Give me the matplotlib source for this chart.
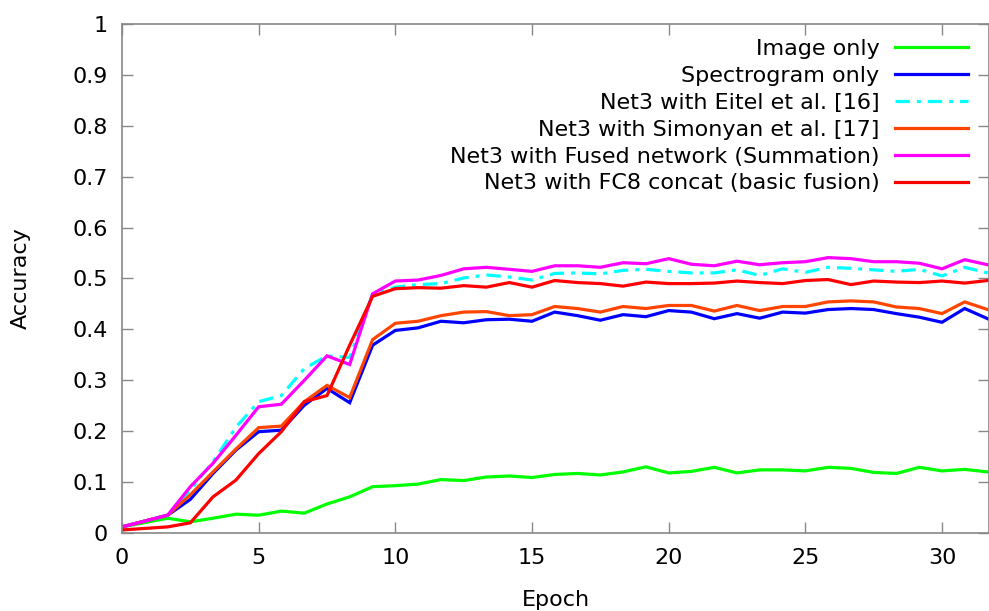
import matplotlib
matplotlib.use("Agg")
import matplotlib.pyplot as plt
from matplotlib.ticker import FormatStrFormatter, MultipleLocator

# --- data ---
epoch = [0, 1.67, 2.5, 3.33, 4.17, 5, 5.83, 6.67, 7.5, 8.33, 9.17, 10,
         10.83, 11.67, 12.5, 13.33, 14.17, 15, 15.83, 16.67, 17.5, 18.33,
         19.17, 20, 20.83, 21.67, 22.5, 23.33, 24.17, 25, 25.83, 26.67,
         27.5, 28.33, 29.17, 30, 30.83, 31.67]

image_only = [0.012, 0.029, 0.022, 0.029, 0.037, 0.035, 0.043, 0.039, 0.057, 0.071,
              0.091, 0.093, 0.096, 0.105, 0.103, 0.110, 0.112, 0.109, 0.115, 0.117,
              0.114, 0.120, 0.130, 0.118, 0.121, 0.129, 0.118, 0.124, 0.124, 0.122,
              0.129, 0.127, 0.119, 0.117, 0.129, 0.122, 0.125, 0.120]
spectrogram = [0.012, 0.035, 0.066, 0.117, 0.163, 0.199, 0.202, 0.251, 0.284, 0.256,
               0.369, 0.398, 0.403, 0.416, 0.413, 0.419, 0.420, 0.416, 0.434, 0.427,
               0.418, 0.429, 0.425, 0.437, 0.434, 0.421, 0.431, 0.422, 0.434, 0.432,
               0.439, 0.441, 0.439, 0.431, 0.424, 0.414, 0.441, 0.421]
eitel = [0.012, 0.035, 0.085, 0.140, 0.208, 0.258, 0.270, 0.323, 0.348, 0.345,
         0.470, 0.483, 0.488, 0.490, 0.501, 0.507, 0.503, 0.497, 0.510, 0.511,
         0.509, 0.516, 0.518, 0.514, 0.511, 0.511, 0.517, 0.506, 0.519, 0.512,
         0.522, 0.520, 0.517, 0.514, 0.518, 0.505, 0.522, 0.511]
simonyan = [0.012, 0.035, 0.075, 0.120, 0.165, 0.207, 0.210, 0.258, 0.290, 0.266,
            0.380, 0.412, 0.416, 0.427, 0.434, 0.435, 0.427, 0.429, 0.445, 0.441,
            0.434, 0.445, 0.441, 0.447, 0.447, 0.436, 0.447, 0.437, 0.445, 0.445,
            0.454, 0.456, 0.454, 0.444, 0.441, 0.431, 0.454, 0.439]
fused = [0.012, 0.035, 0.091, 0.137, 0.192, 0.248, 0.253, 0.300, 0.348, 0.331,
         0.470, 0.495, 0.497, 0.506, 0.519, 0.522, 0.518, 0.514, 0.525, 0.525,
         0.522, 0.531, 0.529, 0.539, 0.528, 0.525, 0.534, 0.527, 0.531, 0.533,
         0.541, 0.539, 0.533, 0.533, 0.530, 0.519, 0.537, 0.527]
fc8 = [0.006, 0.012, 0.020, 0.071, 0.104, 0.156, 0.199, 0.258, 0.270, 0.369,
       0.465, 0.480, 0.482, 0.481, 0.486, 0.483, 0.492, 0.483, 0.496, 0.492,
       0.490, 0.485, 0.493, 0.490, 0.490, 0.491, 0.495, 0.492, 0.490, 0.496,
       0.498, 0.488, 0.495, 0.493, 0.492, 0.495, 0.491, 0.496]

labels = ["Image only", "Spectrogram only", "Net3 with Eitel et al. [16]",
          "Net3 with Simonyan et al. [17]", "Net3 with Fused network (Summation)",
          "Net3 with FC8 concat (basic fusion)"]

# gnuplot-ish look
GREEN, BLUE, CYAN = "#00ff00", "#0000ff", "#00ffff"
ORANGE, MAGENTA, RED = "#ff4500", "#ff00ff", "#ff0000"
FRAME = "#888888"
FS = 16
LW = 2.3

plt.rcParams.update({"font.family": "DejaVu Sans", "font.size": FS})

W, H = 989, 611
fig = plt.figure(figsize=(W / 100, H / 100), dpi=100)
ax = fig.add_axes([122 / W, 78 / H, 867 / W, 509 / H])

series = [image_only, spectrogram, eitel, simonyan, fused, fc8]
colors = [GREEN, BLUE, CYAN, ORANGE, MAGENTA, RED]
styles = ["-", "-", (0, (4.5, 2.2, 1.2, 2.2)), "-", "-", "-"]
for ys, c, ls, lab in zip(series, colors, styles, labels):
    ax.plot(epoch, ys, color=c, lw=LW, ls=ls, label=lab, solid_joinstyle="miter")

ax.set_xlim(0, 31.72)
ax.set_ylim(0, 1)
ax.xaxis.set_major_locator(MultipleLocator(5))
ax.yaxis.set_major_locator(MultipleLocator(0.1))
ax.yaxis.set_major_formatter(FormatStrFormatter("%g"))
ax.tick_params(direction="in", top=True, right=True, length=8, width=1,
               color=FRAME, labelsize=FS)
ax.tick_params(axis="x", pad=11)
ax.tick_params(axis="y", pad=10)
for s in ax.spines.values():
    s.set_color(FRAME)
    s.set_linewidth(1.2)

ax.set_xlabel("Epoch", fontsize=FS, labelpad=16)
ax.set_ylabel("Accuracy", fontsize=FS, labelpad=30)

leg = ax.legend(loc="upper right", bbox_to_anchor=(968 / W, 1 - 39 / H),
                bbox_transform=fig.transFigure, frameon=False, markerfirst=False,
                handlelength=3.3, handletextpad=0.68, labelspacing=0.31,
                borderpad=0, borderaxespad=0, fontsize=FS)

fig.savefig("out.png", dpi=100)
